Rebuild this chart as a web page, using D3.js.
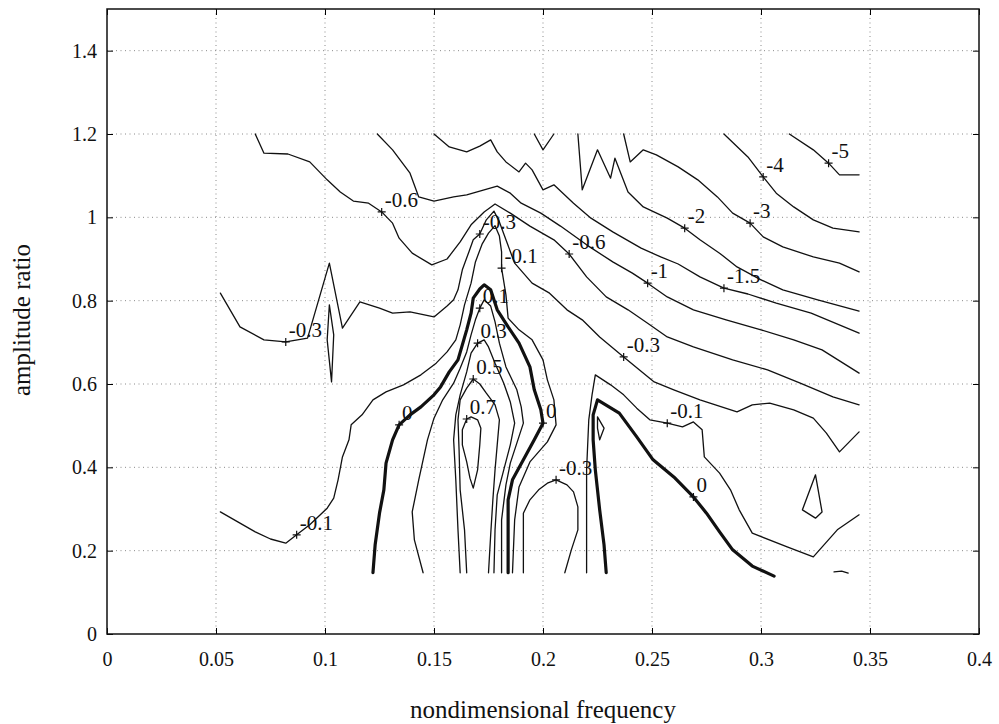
<!DOCTYPE html>
<html>
<head>
<meta charset="utf-8">
<script src="https://cdn.jsdelivr.net/npm/d3@7"></script>
<style>
  body { margin: 0; background: #fff; }
  svg text { font-family: "Liberation Serif", "Times New Roman", serif !important; fill: #111; }
</style>
</head>
<body>
<svg id="chart" width="999" height="724"></svg>
<script>
// Contour segments of the response surface, points as [frequency, amplitude ratio]
const cM5 = [[0.313,1.2],[0.324,1.162],[0.331,1.130],[0.336,1.102],[0.345,1.102]];
const cM4 = [[0.283,1.2],[0.294,1.145],[0.301,1.097],[0.307,1.058],[0.315,1.025],[0.324,0.994],[0.333,0.974],[0.345,0.965]];
const cM3 = [[0.237,1.2],[0.240,1.133],[0.246,1.162],[0.252,1.150],[0.262,1.121],[0.271,1.090],[0.280,1.049],[0.287,1.010],[0.295,0.986],[0.301,0.953],[0.310,0.929],[0.324,0.905],[0.336,0.890],[0.345,0.869]];
const cM2 = [[0.216,1.2],[0.218,1.066],[0.225,1.162],[0.231,1.094],[0.233,1.142],[0.239,1.061],[0.246,1.025],[0.257,0.998],[0.265,0.974],[0.272,0.946],[0.281,0.914],[0.289,0.881],[0.300,0.850],[0.310,0.826],[0.326,0.802],[0.345,0.775]];
const cM2b = [[0.196,1.2],[0.200,1.162],[0.205,1.2]];
const cM15 = [[0.150,1.2],[0.157,1.169],[0.165,1.157],[0.171,1.171],[0.176,1.186],[0.179,1.157],[0.183,1.133],[0.189,1.109],[0.192,1.130],[0.195,1.114],[0.200,1.066],[0.205,1.078],[0.214,1.034],[0.222,0.998],[0.232,0.965],[0.245,0.926],[0.254,0.905],[0.262,0.888],[0.272,0.857],[0.283,0.830],[0.294,0.816],[0.307,0.794],[0.323,0.770],[0.345,0.722]];
const cM1 = [[0.124,1.2],[0.131,1.162],[0.139,1.106],[0.143,1.049],[0.150,1.039],[0.159,1.049],[0.165,1.054],[0.173,1.066],[0.179,1.075],[0.185,1.058],[0.190,1.034],[0.199,1.010],[0.208,0.979],[0.220,0.934],[0.232,0.893],[0.241,0.866],[0.248,0.842],[0.257,0.809],[0.269,0.778],[0.284,0.754],[0.300,0.730],[0.315,0.706],[0.328,0.682],[0.345,0.626]];
const cM06 = [[0.068,1.2],[0.072,1.154],[0.083,1.152],[0.093,1.133],[0.101,1.090],[0.107,1.061],[0.113,1.039],[0.120,1.034],[0.126,1.013],[0.131,0.986],[0.134,0.950],[0.140,0.914],[0.149,0.886],[0.156,0.900],[0.162,0.941],[0.167,0.982],[0.173,1.013],[0.178,1.032],[0.185,1.010],[0.194,0.979],[0.205,0.946],[0.212,0.912],[0.220,0.857],[0.229,0.809],[0.239,0.778],[0.248,0.746],[0.257,0.713],[0.269,0.689],[0.287,0.658],[0.303,0.634],[0.318,0.602],[0.333,0.569],[0.345,0.550]];
const cM03 = [[0.052,0.818],[0.061,0.737],[0.072,0.706],[0.082,0.701],[0.092,0.710],[0.102,0.890],[0.108,0.734],[0.116,0.797],[0.125,0.782],[0.131,0.770],[0.139,0.773],[0.150,0.761],[0.156,0.787],[0.159,0.802],[0.161,0.826],[0.163,0.874],[0.166,0.917],[0.168,0.946],[0.171,0.960],[0.174,0.994],[0.1775,1.015],[0.180,0.989],[0.183,0.946],[0.187,0.890],[0.191,0.866],[0.195,0.842],[0.203,0.818],[0.211,0.778],[0.218,0.754],[0.226,0.713],[0.237,0.665],[0.251,0.605],[0.260,0.586],[0.272,0.562],[0.289,0.533],[0.296,0.550],[0.304,0.554],[0.315,0.538],[0.324,0.518],[0.330,0.482],[0.336,0.437],[0.345,0.485]];
const cM03spike = [[0.102,0.790],[0.104,0.718],[0.103,0.605],[0.101,0.706],[0.102,0.790]];
const cM03pool = [[0.191,0.147],[0.191,0.226],[0.191,0.290],[0.194,0.322],[0.198,0.346],[0.202,0.362],[0.206,0.370],[0.211,0.358],[0.214,0.341],[0.216,0.305],[0.216,0.250],[0.213,0.202],[0.210,0.147]];
const cM03loop = [[0.325,0.382],[0.319,0.298],[0.325,0.278],[0.328,0.293],[0.325,0.382]];
const cM01 = [[0.052,0.293],[0.060,0.269],[0.068,0.245],[0.075,0.228],[0.082,0.218],[0.087,0.238],[0.093,0.262],[0.101,0.302],[0.104,0.326],[0.106,0.370],[0.108,0.425],[0.111,0.466],[0.112,0.502],[0.117,0.526],[0.122,0.562],[0.128,0.581],[0.136,0.598],[0.144,0.622],[0.151,0.650],[0.156,0.677],[0.160,0.706],[0.162,0.742],[0.164,0.790],[0.167,0.842],[0.169,0.893],[0.172,0.935],[0.175,0.962],[0.178,0.980],[0.180,0.955],[0.181,0.917],[0.181,0.878],[0.183,0.814],[0.184,0.758],[0.189,0.730],[0.195,0.706],[0.200,0.658],[0.202,0.610],[0.205,0.562],[0.206,0.502],[0.202,0.461],[0.194,0.413],[0.189,0.353],[0.187,0.274],[0.186,0.147]];
const cM01v = [[0.220,0.147],[0.220,0.274],[0.220,0.394],[0.221,0.514],[0.2225,0.574],[0.224,0.622],[0.231,0.598],[0.237,0.574],[0.243,0.542],[0.249,0.514],[0.257,0.506],[0.264,0.497],[0.269,0.509],[0.273,0.490],[0.274,0.425],[0.281,0.386],[0.286,0.346],[0.290,0.298],[0.296,0.242],[0.312,0.209],[0.324,0.185],[0.335,0.250],[0.345,0.286]];
const cM01tail = [[0.3335,0.149],[0.337,0.151],[0.340,0.146]];
const c0 = [[0.122,0.147],[0.123,0.214],[0.125,0.290],[0.127,0.346],[0.128,0.410],[0.131,0.466],[0.134,0.502],[0.139,0.526],[0.144,0.545],[0.150,0.574],[0.153,0.593],[0.157,0.629],[0.161,0.658],[0.163,0.694],[0.165,0.730],[0.167,0.770],[0.168,0.806],[0.171,0.828],[0.173,0.838],[0.176,0.826],[0.179,0.778],[0.184,0.737],[0.189,0.698],[0.194,0.641],[0.196,0.586],[0.199,0.538],[0.200,0.506],[0.196,0.466],[0.191,0.418],[0.186,0.370],[0.184,0.322],[0.184,0.226],[0.184,0.147]];
const c0v = [[0.229,0.147],[0.228,0.214],[0.226,0.298],[0.224,0.394],[0.223,0.466],[0.223,0.526],[0.225,0.562],[0.235,0.530],[0.243,0.473],[0.2505,0.418],[0.260,0.377],[0.269,0.329],[0.275,0.290],[0.281,0.245],[0.287,0.202],[0.296,0.163],[0.306,0.139]];
const cP01 = [[0.145,0.147],[0.141,0.226],[0.140,0.293],[0.143,0.370],[0.147,0.466],[0.150,0.518],[0.154,0.562],[0.159,0.602],[0.162,0.638],[0.165,0.677],[0.167,0.718],[0.169,0.754],[0.171,0.782],[0.173,0.802],[0.176,0.787],[0.178,0.749],[0.180,0.698],[0.183,0.641],[0.188,0.586],[0.190,0.545],[0.191,0.506],[0.188,0.458],[0.185,0.410],[0.183,0.358],[0.181,0.274],[0.181,0.147]];
const cP01d = [[0.225,0.521],[0.228,0.494],[0.226,0.466],[0.225,0.494],[0.225,0.521]];
const cP03 = [[0.162,0.147],[0.161,0.250],[0.160,0.370],[0.159,0.466],[0.160,0.526],[0.162,0.574],[0.165,0.629],[0.167,0.674],[0.170,0.698],[0.173,0.706],[0.175,0.689],[0.178,0.650],[0.182,0.602],[0.185,0.557],[0.187,0.506],[0.185,0.454],[0.182,0.394],[0.179,0.334],[0.178,0.250],[0.1775,0.147]];
const cP05 = [[0.165,0.147],[0.164,0.250],[0.162,0.346],[0.1615,0.442],[0.161,0.514],[0.162,0.562],[0.165,0.590],[0.168,0.612],[0.171,0.600],[0.174,0.578],[0.178,0.550],[0.180,0.514],[0.179,0.454],[0.178,0.394],[0.177,0.322],[0.176,0.238],[0.175,0.147]];
const cP07 = [[0.165,0.516],[0.163,0.490],[0.163,0.454],[0.165,0.413],[0.1665,0.374],[0.168,0.350],[0.170,0.394],[0.171,0.454],[0.1715,0.494],[0.170,0.514],[0.167,0.521],[0.165,0.516]];

// Level of each segment
const contourSet = [
  [-5, cM5], [-4, cM4], [-3, cM3], [-2, cM2], [-2, cM2b], [-1.5, cM15], [-1, cM1],
  [-0.6, cM06], [-0.3, cM03], [-0.3, cM03spike], [-0.3, cM03pool], [-0.3, cM03loop],
  [-0.1, cM01], [-0.1, cM01v], [-0.1, cM01tail],
  [0, c0], [0, c0v],
  [0.1, cP01], [0.1, cP01d], [0.3, cP03], [0.5, cP05], [0.7, cP07]
];

// Inline contour labels: [level, frequency, amplitude ratio]
const contourLabels = [
  [-0.6,0.126,1.013], [-0.3,0.082,0.701], [-0.1,0.087,0.238], [-0.3,0.171,0.960],
  [-0.1,0.181,0.878], [0.1,0.171,0.782], [0.3,0.170,0.698], [0.5,0.168,0.612],
  [0.7,0.165,0.516], [0,0.134,0.502], [0,0.200,0.506], [-0.6,0.212,0.912],
  [-1,0.248,0.842], [-1.5,0.283,0.830], [-2,0.265,0.974], [-3,0.295,0.986],
  [-4,0.301,1.097], [-5,0.331,1.130], [-0.3,0.237,0.665], [-0.1,0.257,0.506],
  [0,0.269,0.329], [-0.3,0.206,0.370]
];

const xTicks = [0, 0.05, 0.1, 0.15, 0.2, 0.25, 0.3, 0.35, 0.4];
const yTicks = [0, 0.2, 0.4, 0.6, 0.8, 1, 1.2, 1.4];
const xDomain = [0, 0.4];
const yDomain = [0, 1.5];

(function draw() {
  const svg = d3.select("#chart");
  const pl = 107, pr = 979, pt = 9, pb = 634;
  const serif = '"Liberation Serif", "Times New Roman", serif';

  const x = d3.scaleLinear().domain(xDomain).range([pl, pr]);
  const y = d3.scaleLinear().domain(yDomain).range([pb, pt]);

  // dotted grid
  const grid = svg.append("g").attr("stroke", "#8a8a8a").attr("stroke-width", 1)
    .attr("stroke-dasharray", "1 3.5");
  grid.selectAll("line.v").data(xTicks.slice(1, -1)).join("line").attr("class", "v")
    .attr("x1", d => x(d)).attr("x2", d => x(d)).attr("y1", pt).attr("y2", pb);
  grid.selectAll("line.h").data(yTicks.slice(1)).join("line").attr("class", "h")
    .attr("x1", pl).attr("x2", pr).attr("y1", d => y(d)).attr("y2", d => y(d));

  // contour lines, the zero level drawn heavy
  const line = d3.line().x(d => x(d[0])).y(d => y(d[1]));
  svg.append("g").attr("fill", "none").attr("stroke", "#111")
    .attr("stroke-linejoin", "round").attr("stroke-linecap", "round")
    .selectAll("path").data(contourSet).join("path")
    .attr("d", d => line(d[1]))
    .attr("stroke-width", d => d[0] === 0 ? 3.2 : 1.3);

  // label markers and texts
  const lab = svg.append("g");
  lab.selectAll("path").data(contourLabels).join("path")
    .attr("transform", d => `translate(${x(d[1])},${y(d[2])})`)
    .attr("d", "M-4,0H4M0,-4V4")
    .attr("stroke", "#111").attr("stroke-width", 1.2);
  lab.selectAll("text").data(contourLabels).join("text")
    .attr("x", d => x(d[1]) + 3).attr("y", d => y(d[2]) - 5)
    .style("font-family", serif).attr("font-size", 21)
    .text(d => String(d[0]));

  // axes with inward ticks on all four sides
  const fmt = d => String(d);
  const styleTicks = g => {
    g.select(".domain").remove();
    g.attr("font-family", null);
    g.selectAll("text").style("font-family", serif).attr("font-size", 20);
  };
  svg.append("g").attr("transform", `translate(0,${pb})`)
    .call(d3.axisBottom(x).tickValues(xTicks).tickFormat(fmt).tickSize(-6).tickPadding(18))
    .call(styleTicks);
  svg.append("g").attr("transform", `translate(0,${pt})`)
    .call(d3.axisTop(x).tickValues(xTicks).tickFormat("").tickSize(-6))
    .call(g => g.select(".domain").remove());
  svg.append("g").attr("transform", `translate(${pl},0)`)
    .call(d3.axisLeft(y).tickValues(yTicks).tickFormat(fmt).tickSize(-6).tickPadding(10))
    .call(styleTicks);
  svg.append("g").attr("transform", `translate(${pr},0)`)
    .call(d3.axisRight(y).tickValues(yTicks).tickFormat("").tickSize(-6))
    .call(g => g.select(".domain").remove());

  svg.append("rect").attr("x", pl).attr("y", pt)
    .attr("width", pr - pl).attr("height", pb - pt)
    .attr("fill", "none").attr("stroke", "#111").attr("stroke-width", 1.5);

  // axis titles
  svg.append("text").attr("x", 543).attr("y", 718)
    .attr("text-anchor", "middle").attr("font-size", 25).style("font-family", serif)
    .text("nondimensional frequency");
  svg.append("text").attr("transform", "translate(30,320) rotate(-90)")
    .attr("text-anchor", "middle").attr("font-size", 25).style("font-family", serif)
    .text("amplitude ratio");
})();
</script>
</body>
</html>
